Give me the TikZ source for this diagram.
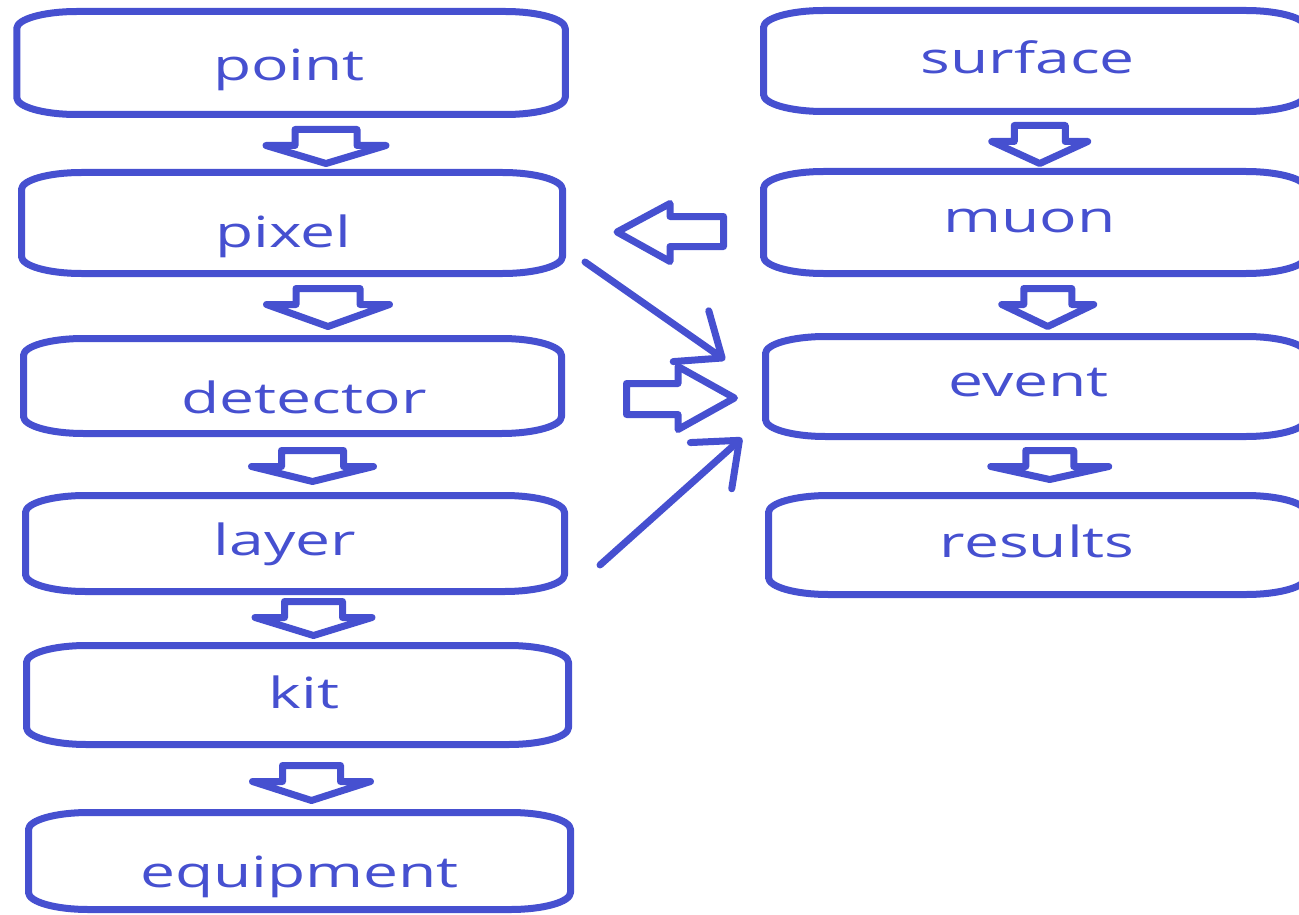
\documentclass[tikz,border=0pt]{standalone}
\usepackage{fontspec}
\setmainfont{Open Sans}
\usetikzlibrary{calc,arrows.meta}
\definecolor{dblue}{RGB}{70,80,208}
% #1 horizontal shift, #2 baseline raise (from node centre), #3 text
\newcommand\lbl[3]{\makebox[0pt]{\hspace{#1}\hspace{#1}\raisebox{#2}{\scalebox{1.45}[1]{#3}}}}
\newcommand\rbox[1]{%
  \draw[boxline] ([xshift=60pt]#1.north west) -- ([xshift=-60pt]#1.north east)
    arc[start angle=90, end angle=0, x radius=60pt, y radius=17pt]
    -- ([yshift=17pt]#1.south east)
    arc[start angle=0, end angle=-90, x radius=60pt, y radius=17pt]
    -- ([xshift=60pt]#1.south west)
    arc[start angle=270, end angle=180, x radius=60pt, y radius=17pt]
    -- ([yshift=-17pt]#1.north west)
    arc[start angle=180, end angle=90, x radius=60pt, y radius=17pt] -- cycle;}
% #1 source node, #2 offset, #3 stem half width, #4 head half width, #5 height
\newcommand\dnarr[5]{%
  \draw[blk] ($(#1.south)+#2$) +(-#3,0) -- +(#3,0) -- +(#3,-16) -- +(#4,-16)
    -- +(0,-#5) -- +(-#4,-16) -- +(-#3,-16) -- cycle;}
\begin{document}
\begin{tikzpicture}[x=1pt,y=1pt,
  boxline/.style={draw=dblue,line width=7pt,line join=round},
  blk/.style={draw=dblue,fill=white,line width=7pt,line join=round},
  thinarrow/.style={draw=dblue,line width=7pt,line cap=round,line join=round,
    -{Straight Barb[length=38pt,width=62pt,line cap=round,line join=round]}},
  boxn/.style={inner sep=0pt,outer sep=0pt,text=dblue,text height=0pt,text depth=0pt,
    font=\fontsize{43}{50}\selectfont}]
\useasboundingbox (0,0) rectangle (1299,-915);
\clip (0,0) rectangle (1299,-915);
% left column
\node[boxn,minimum width=548.5pt,minimum height=103pt] (point) at (291,-63) {\lbl{-2pt}{-18pt}{point}};
\node[boxn,minimum width=541pt,minimum height=101pt] (pixel) at (292,-223) {\lbl{-8.5pt}{-24pt}{pixel}};
\node[boxn,minimum width=538pt,minimum height=95pt] (detector) at (292.5,-386) {\lbl{11.5pt}{-27pt}{detector}};
\node[boxn,minimum width=539pt,minimum height=96pt] (layer) at (295,-543.5) {\lbl{-10pt}{-11.5pt}{layer}};
\node[boxn,minimum width=542pt,minimum height=99pt] (kit) at (297.5,-695) {\lbl{6.5pt}{-13pt}{kit}};
\node[boxn,minimum width=542pt,minimum height=97pt] (equipment) at (299.5,-861) {\lbl{0pt}{-26pt}{equipment}};
% right column
\node[boxn,minimum width=542.5pt,minimum height=101pt] (surface) at (1034.75,-61) {\lbl{-7pt}{-13pt}{surface}};
\node[boxn,minimum width=542.5pt,minimum height=102pt] (muon) at (1034.75,-222.5) {\lbl{-5pt}{-9.5pt}{muon}};
\node[boxn,minimum width=540.5pt,minimum height=100pt] (event) at (1035.75,-386.5) {\lbl{-7pt}{-9.5pt}{event}};
\node[boxn,minimum width=537.5pt,minimum height=99pt] (results) at (1037.25,-545) {\lbl{0pt}{-12pt}{results}};
\foreach \n in {point,pixel,detector,layer,kit,equipment,surface,muon,event,results}{\rbox{\n}}
% down block arrows
\dnarr{point}{(35,-15)}{31}{60}{34}
\dnarr{pixel}{(36,-15)}{32}{61.5}{38}
\dnarr{detector}{(20,-17)}{31}{61}{31}
\dnarr{layer}{(18.5,-10)}{29}{58.5}{34}
\dnarr{kit}{(14,-21)}{29}{59}{35}
\dnarr{surface}{(5,-14)}{25.5}{48}{38}
\dnarr{muon}{(13,-15)}{24}{46}{38}
\dnarr{event}{(14,-14)}{24}{59}{29}
% muon -> pixel block arrow
\draw[blk] ($(pixel.east)!0.5!(muon.west)$) +(60.5,6.25) -- +(7,6.25) -- +(7,19.25)
  -- +(-46,-9.25) -- +(7,-38.75) -- +(7,-23.75) -- +(60.5,-23.75) -- cycle;
% detector -> event block arrow
\draw[blk] ($(detector.east)!0.5!(event.west)$) +(-37,2.75) -- +(14.5,2.75) -- +(14.5,19.75)
  -- +(71,-11.75) -- +(14.5,-43.25) -- +(14.5,-28.25) -- +(-37,-28.25) -- cycle;
% line arrows
\draw[thinarrow] ($(pixel.south east)+(22.5,11.5)$) -- ($(event.west)+(-40.5,26.5)$);
\draw[thinarrow] ($(layer.south east)+(35.5,26.5)$) -- ($(event.south west)+(-23.5,-1.5)$);
\end{tikzpicture}
\end{document}
